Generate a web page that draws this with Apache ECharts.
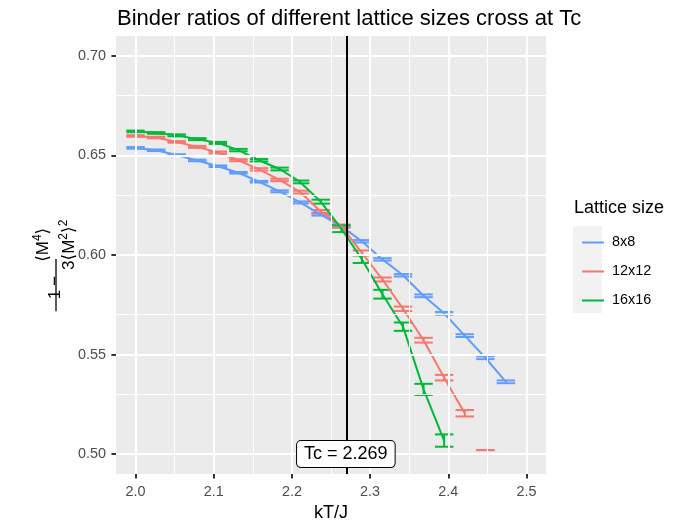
<!DOCTYPE html>
<html>
<head>
<meta charset="utf-8">
<script src="https://cdn.jsdelivr.net/npm/echarts@6/dist/echarts.min.js"></script>
<style>
  html, body { margin: 0; padding: 0; background: #ffffff; }
  #chart { width: 688px; height: 523px; }
</style>
</head>
<body>
<div id="chart"></div>
<script>
// Simulation temperatures kT/J (20 evenly spaced runs between 2.0 and 2.5)
const temps = [2.0000, 2.0263, 2.0526, 2.0789, 2.1053, 2.1316, 2.1579, 2.1842, 2.2105, 2.2368,
               2.2632, 2.2895, 2.3158, 2.3421, 2.3684, 2.3947, 2.4211, 2.4474, 2.4737, 2.5000];

// Lattice sizes, in legend order
const sizes = ['8x8', '12x12', '16x16'];

// Binder ratio 1 - <M^4> / (3 <M^2>^2), mean and standard error per temperature
const binder8  = [0.6538, 0.6526, 0.6502, 0.6475, 0.6446, 0.6413, 0.6368, 0.6320, 0.6264, 0.6203,
                  0.6144, 0.6069, 0.5978, 0.5898, 0.5795, 0.5707, 0.5595, 0.5484, 0.5363];
const err8     = [0.0004, 0.0004, 0.0004, 0.0004, 0.0004, 0.0004, 0.0004, 0.0005, 0.0005, 0.0005,
                  0.0005, 0.0006, 0.0006, 0.0006, 0.0007, 0.0007, 0.0007, 0.0007, 0.0007];
const binder12 = [0.6598, 0.6590, 0.6568, 0.6543, 0.6515, 0.6476, 0.6430, 0.6377, 0.6316, 0.6219,
                  0.6145, 0.6011, 0.5877, 0.5730, 0.5572, 0.5384, 0.5205, 0.5020];
const err12    = [0.0004, 0.0004, 0.0004, 0.0005, 0.0005, 0.0005, 0.0006, 0.0006, 0.0007, 0.0007,
                  0.0008, 0.0012, 0.0010, 0.0011, 0.0012, 0.0014, 0.0016, 0.0000];
const binder16 = [0.6621, 0.6613, 0.6601, 0.6582, 0.6563, 0.6527, 0.6476, 0.6432, 0.6367, 0.6268,
                  0.6132, 0.5979, 0.5803, 0.5640, 0.5325, 0.5068];
const err16    = [0.0004, 0.0004, 0.0005, 0.0005, 0.0005, 0.0006, 0.0006, 0.0007, 0.0007, 0.0010,
                  0.0017, 0.0019, 0.0022, 0.0021, 0.0028, 0.0031];
// How many runs of each size are joined by the line (the last 12x12 run stands alone)
const joinedRuns = [19, 17, 16];

// Critical temperature (Onsager)
const Tc = 2.269;
const tcLabelY = 0.50;

// Axis breaks
const xBreaks = [2.0, 2.1, 2.2, 2.3, 2.4, 2.5];
const xMinor  = [2.05, 2.15, 2.25, 2.35, 2.45];
const yBreaks = [0.50, 0.55, 0.60, 0.65, 0.70];
const yMinor  = [0.525, 0.575, 0.625, 0.675];

const means  = [binder8, binder12, binder16];
const errors = [err8, err12, err16];
const colors = ['#619CFF', '#F8766D', '#00BA38'];

const FONT = '"Liberation Sans", Arial, Helvetica, sans-serif';
const capHalf = 0.0118;   // half the error-bar cap width, in kT/J

const chart = echarts.init(document.getElementById('chart'), null, { renderer: 'canvas' });

// Background grid lines of the panel
const gridLines = [];
xBreaks.forEach(v => gridLines.push({ xAxis: v, lineStyle: { width: 2 } }));
xMinor.forEach(v => gridLines.push({ xAxis: v, lineStyle: { width: 1 } }));
yBreaks.forEach(v => gridLines.push({ yAxis: v, lineStyle: { width: 2 } }));
yMinor.forEach(v => gridLines.push({ yAxis: v, lineStyle: { width: 1 } }));

const series = [{
  type: 'line', name: 'grid', data: [], silent: true, z: 1,
  markLine: {
    silent: true, symbol: 'none', animation: false,
    label: { show: false },
    lineStyle: { color: '#ffffff', type: 'solid', opacity: 1 },
    emphasis: { disabled: true },
    data: gridLines
  }
}];

// Error bars
sizes.forEach((name, s) => {
  const m = means[s], e = errors[s], col = colors[s];
  series.push({
    type: 'custom', name, color: col, z: 3, silent: true,
    data: m.map((v, i) => [temps[i], v - e[i], v + e[i]]),
    encode: { x: 0, y: [1, 2] },
    renderItem: (params, api) => {
      const x = api.value(0), lo = api.value(1), hi = api.value(2);
      const pLo = api.coord([x, lo]), pHi = api.coord([x, hi]);
      const xl = api.coord([x - capHalf, hi])[0], xr = api.coord([x + capHalf, hi])[0];
      const st = { stroke: col, lineWidth: 2 };
      return {
        type: 'group', children: [
          { type: 'line', shape: { x1: pLo[0], y1: pLo[1], x2: pHi[0], y2: pHi[1] }, style: st },
          { type: 'line', shape: { x1: xl, y1: pHi[1], x2: xr, y2: pHi[1] }, style: st },
          { type: 'line', shape: { x1: xl, y1: pLo[1], x2: xr, y2: pLo[1] }, style: st }
        ]
      };
    }
  });
});

// Lines through the means
sizes.forEach((name, s) => {
  const m = means[s].slice(0, joinedRuns[s]);
  series.push({
    type: 'line', name, color: colors[s], z: 4, silent: true,
    showSymbol: false, symbol: 'none',
    lineStyle: { width: 2, color: colors[s] },
    data: m.map((v, i) => [temps[i], v])
  });
});

// Vertical line at the critical temperature
series.push({
  type: 'line', name: 'Tc line', data: [], silent: true, z: 5,
  markLine: {
    silent: true, symbol: 'none', animation: false,
    label: { show: false },
    lineStyle: { color: '#000000', width: 2, type: 'solid', opacity: 1 },
    emphasis: { disabled: true },
    data: [{ xAxis: Tc }]
  }
});

// Boxed label for the critical temperature, drawn above the line
series.push({
  type: 'custom', name: 'Tc', z: 10, silent: true,
  data: [[Tc, tcLabelY]],
  encode: { x: 0, y: 1 },
  renderItem: (params, api) => {
    const p = api.coord([api.value(0), api.value(1)]);
    return {
      type: 'text', x: p[0], y: p[1], z2: 100,
      style: {
        text: 'Tc = ' + Tc, font: '18px ' + FONT, fill: '#000000',
        align: 'center', verticalAlign: 'middle', lineHeight: 18,
        backgroundColor: '#ffffff', borderColor: '#000000', borderWidth: 1, borderRadius: 4,
        padding: [4, 7, 4, 7]
      }
    };
  }
});

// Y-axis title: 1 - <M^4> / (3 <M^2>^2), set as a rotated fraction
function buildYTitle(cx, cy) {
  const ctx = document.createElement('canvas').getContext('2d');
  const fam = '"Liberation Sans", "DejaVu Sans", sans-serif';
  const w = (t, size) => { ctx.font = size + 'px ' + fam; return ctx.measureText(t).width; };
  const S = 17, F = 17, P = 12;
  const kids = [];
  const put = (t, size, x, base) => kids.push({
    type: 'text', x, y: base - 0.35 * size,
    style: { text: t, font: size + 'px ' + fam, fill: '#000000', align: 'left', verticalAlign: 'middle',
             textAlign: 'left', textVerticalAlign: 'middle' }
  });
  let x = 0;
  const bOne = 0.29 * S;
  put('1', S, x, bOne); x += w('1', S) + 4;
  put('\u2212', S, x, bOne); x += w('\u2212', S) + 5;
  const numParts = [['\u27E8M', F, 0], ['4', P, -0.42 * F], ['\u27E9', F, 0]];
  const denParts = [['3\u27E8M', F, 0], ['2', P, -0.42 * F], ['\u27E9', F, 0], ['2', P, -0.42 * F]];
  const width = parts => parts.reduce((a, p) => a + w(p[0], p[1]), 0);
  const numW = width(numParts), denW = width(denParts);
  const barLen = Math.max(numW, denW) + 2;
  const fx = x;
  const numBase = -7, denBase = 19;
  let nx = fx + (barLen - numW) / 2;
  numParts.forEach(p => { put(p[0], p[1], nx, numBase + p[2]); nx += w(p[0], p[1]); });
  let dx = fx + (barLen - denW) / 2;
  denParts.forEach(p => { put(p[0], p[1], dx, denBase + p[2]); dx += w(p[0], p[1]); });
  kids.push({ type: 'line', shape: { x1: fx, y1: 0, x2: fx + barLen, y2: 0 },
              style: { stroke: '#000000', lineWidth: 1.3 } });
  const total = fx + barLen;
  kids.forEach(k => { k.x = (k.x || 0) - total / 2; if (k.shape) { k.shape.x1 -= total / 2; k.shape.x2 -= total / 2; } });
  return { type: 'group', x: cx, y: cy, rotation: Math.PI / 2, children: kids, silent: true };
}

const option = {
  animation: false,
  backgroundColor: '#ffffff',
  title: {
    text: 'Binder ratios of different lattice sizes cross at Tc',
    left: 112, top: 3,
    textStyle: { fontFamily: FONT, fontSize: 22, fontWeight: 'normal', color: '#000000' }
  },
  grid: { left: 116, right: 142, top: 36, bottom: 49, show: true, backgroundColor: '#EBEBEB', borderWidth: 0,
          containLabel: false, outerBoundsMode: 'none' },
  xAxis: {
    type: 'value', min: 1.975, max: 2.525,
    name: 'kT/J', nameLocation: 'middle', nameGap: 28,
    nameTextStyle: { fontFamily: FONT, fontSize: 18, color: '#000000', verticalAlign: 'top' },
    axisLine: { show: false },
    axisTick: { show: true, length: 4.6, lineStyle: { color: '#333333', width: 2 }, customValues: xBreaks },
    axisLabel: { customValues: xBreaks, formatter: v => v.toFixed(1), fontFamily: FONT, fontSize: 14.4,
                 color: '#4D4D4D', margin: 11 },
    splitLine: { show: false }
  },
  yAxis: {
    type: 'value', min: 0.49, max: 0.71,
    axisLine: { show: false },
    axisTick: { show: true, length: 4.6, lineStyle: { color: '#333333', width: 2 }, customValues: yBreaks },
    axisLabel: { customValues: yBreaks, formatter: v => v.toFixed(2), fontFamily: FONT, fontSize: 14.4,
                 color: '#4D4D4D', margin: 10 },
    splitLine: { show: false }
  },
  legend: {
    orient: 'vertical', left: 577, top: 229,
    data: sizes.map(n => ({ name: n, icon: 'rect' })),
    itemWidth: 22, itemHeight: 2, itemGap: 12,
    selectedMode: false,
    textStyle: { fontFamily: FONT, fontSize: 14.4, color: '#000000', lineHeight: 17, padding: [0, 0, 0, 3] }
  },
  graphic: [
    { type: 'rect', left: 573, top: 226, shape: { width: 29, height: 87 }, style: { fill: '#F2F2F2' }, z: -1, silent: true },
    { type: 'text', left: 574, top: 199, silent: true,
      style: { text: 'Lattice size', font: '18px ' + FONT, fill: '#000000' } },
    buildYTitle(56, 259)
  ],
  series
};

chart.setOption(option);
</script>
</body>
</html>
